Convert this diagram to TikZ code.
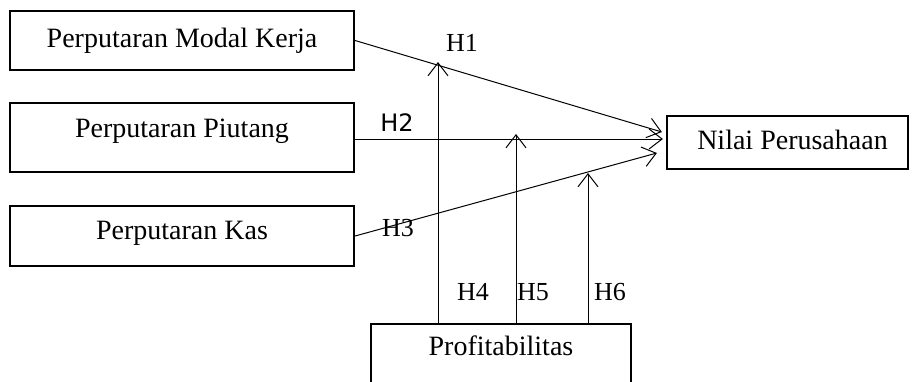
\documentclass[tikz,border=0pt]{standalone}
\usepackage{fontspec}
\setmainfont{Liberation Serif}
\newfontfamily\hsans{DejaVu Sans}
\usetikzlibrary{positioning,arrows.meta}
\tikzset{
  varbox/.style={draw, line width=1.1pt, minimum width=172pt, inner sep=0pt,
                 text height=10pt, text depth=3pt, font=\fontsize{14}{16}\selectfont},
  hyp/.style={-{Straight Barb[length=6.5pt, width=10pt]}, line width=0.5pt},
  hlab/.style={inner sep=0pt, font=\fontsize{13}{15}\selectfont},
}
\begin{document}
\begin{tikzpicture}[x=0.5pt, y=-0.5pt]
  \useasboundingbox (0,0) rectangle (912,381);
  \clip (0,0) rectangle (912,381);
  \node[varbox, minimum height=29.5pt] (var1) at (182,40.5) {Perputaran Modal Kerja};
  \node[varbox, minimum height=34.5pt, text depth=10.5pt] (var2) at (182,137.5) {Perputaran Piutang};
  \node[varbox, minimum height=30pt, text depth=7pt] (var3) at (182,236) {Perputaran Kas};
  \node[varbox, minimum width=120.5pt, minimum height=26.5pt] (nilai) at (787.5,142.5) {\hspace{5pt}Nilai Perusahaan};
  \node[varbox, minimum width=130pt, minimum height=32pt, text depth=11pt] (prof) at (501,356) {Profitabilitas};

  % arrow ends at Nilai Perusahaan
  \coordinate (e1) at ([xshift=-2pt, yshift=5.25pt]nilai.west);
  \coordinate (e2) at ([xshift=-1.5pt, yshift=1.75pt]nilai.west);
  \coordinate (e3) at ([xshift=-4.5pt, yshift=-5.25pt]nilai.west);
  \draw[hyp] (var1.east) -- (e1);
  \draw[hyp] (var2.east |- e2) -- (e2);
  \draw[hyp] (var3.east) -- (e3);

  % moderating arrows
  \coordinate (t4) at (438,62);
  \coordinate (t5) at (516,134);
  \coordinate (t6) at (588,173);
  \foreach \t in {t4,t5,t6}
    \draw[hyp] (prof.north -| \t) -- (\t);

  \node[hlab] (h1) at (462,43) {H1};
  \node[hlab, font=\hsans\fontsize{12}{14}\selectfont] (h2) at (397,123) {H2};
  \node[hlab] (h3) at (398,228) {H3};
  \node[hlab] (h4) at (473,292) {H4};
  \node[hlab] (h5) at (533,292) {H5};
  \node[hlab] (h6) at (610,292) {H6};
\end{tikzpicture}
\end{document}
